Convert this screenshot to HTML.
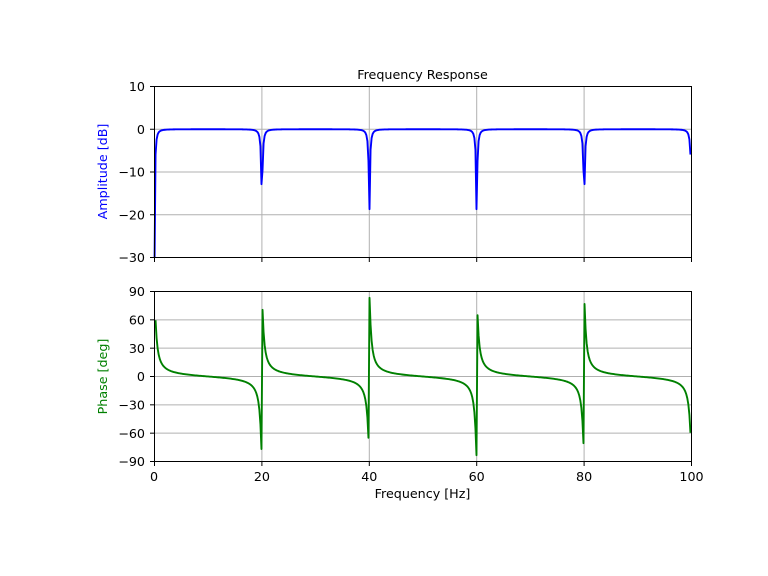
<!DOCTYPE html>
<html>
<head>
<meta charset="utf-8">
<style>
html,body{margin:0;padding:0;background:#fff;width:768px;height:576px;overflow:hidden;}
svg{display:block;}
text{font-family:"DejaVu Sans","Liberation Sans",sans-serif;font-size:12.7px;fill:#000;}
</style>
</head>
<body>
<svg id="fig" width="768" height="576" viewBox="0 0 768 576" xmlns="http://www.w3.org/2000/svg">
<defs>
<clipPath id="c1"><rect x="153.5" y="86.5" width="538.5" height="171"/></clipPath>
<clipPath id="c2"><rect x="153.5" y="291.5" width="538.5" height="170"/></clipPath>
</defs>
<rect x="0" y="0" width="768" height="576" fill="#fff"/>

<!-- ===== Top axes ===== -->
<g stroke="#b0b0b0" stroke-width="1" fill="none">
<line x1="261.9" y1="86.5" x2="261.9" y2="257.5"/>
<line x1="369.3" y1="86.5" x2="369.3" y2="257.5"/>
<line x1="476.7" y1="86.5" x2="476.7" y2="257.5"/>
<line x1="584.1" y1="86.5" x2="584.1" y2="257.5"/>
<line x1="154.5" y1="129.25" x2="691.5" y2="129.25"/>
<line x1="154.5" y1="172" x2="691.5" y2="172"/>
<line x1="154.5" y1="214.75" x2="691.5" y2="214.75"/>
</g>
<path id="amp" d="" fill="none" stroke="#0000ff" stroke-width="1.9" stroke-linejoin="round" clip-path="url(#c1)"/>
<rect x="154.5" y="86.5" width="537" height="171" fill="none" stroke="#000" stroke-width="1"/>
<g stroke="#000" stroke-width="1">
<line x1="150" y1="86.5" x2="154.5" y2="86.5"/>
<line x1="150" y1="129.25" x2="154.5" y2="129.25"/>
<line x1="150" y1="172" x2="154.5" y2="172"/>
<line x1="150" y1="214.75" x2="154.5" y2="214.75"/>
<line x1="150" y1="257.5" x2="154.5" y2="257.5"/>
<line x1="154.5" y1="257.5" x2="154.5" y2="262"/>
<line x1="261.9" y1="257.5" x2="261.9" y2="262"/>
<line x1="369.3" y1="257.5" x2="369.3" y2="262"/>
<line x1="476.7" y1="257.5" x2="476.7" y2="262"/>
<line x1="584.1" y1="257.5" x2="584.1" y2="262"/>
<line x1="691.5" y1="257.5" x2="691.5" y2="262"/>
</g>
<g text-anchor="end">
<text x="145" y="91.1">10</text>
<text x="145" y="133.85">0</text>
<text x="145" y="176.6">−10</text>
<text x="145" y="219.35">−20</text>
<text x="145" y="262.1">−30</text>
</g>
<text x="422.5" y="79" text-anchor="middle">Frequency Response</text>
<text x="106.8" y="171.5" text-anchor="middle" transform="rotate(-90 106.8 171.5)" style="fill:#0000ff">Amplitude [dB]</text>

<!-- ===== Bottom axes ===== -->
<g stroke="#b0b0b0" stroke-width="1" fill="none">
<line x1="261.9" y1="291.5" x2="261.9" y2="461.5"/>
<line x1="369.3" y1="291.5" x2="369.3" y2="461.5"/>
<line x1="476.7" y1="291.5" x2="476.7" y2="461.5"/>
<line x1="584.1" y1="291.5" x2="584.1" y2="461.5"/>
<line x1="154.5" y1="319.83" x2="691.5" y2="319.83"/>
<line x1="154.5" y1="348.17" x2="691.5" y2="348.17"/>
<line x1="154.5" y1="376.5" x2="691.5" y2="376.5"/>
<line x1="154.5" y1="404.83" x2="691.5" y2="404.83"/>
<line x1="154.5" y1="433.17" x2="691.5" y2="433.17"/>
</g>
<path id="phs" d="" fill="none" stroke="#008000" stroke-width="1.9" stroke-linejoin="round" clip-path="url(#c2)"/>
<rect x="154.5" y="291.5" width="537" height="170" fill="none" stroke="#000" stroke-width="1"/>
<g stroke="#000" stroke-width="1">
<line x1="150" y1="291.5" x2="154.5" y2="291.5"/>
<line x1="150" y1="319.83" x2="154.5" y2="319.83"/>
<line x1="150" y1="348.17" x2="154.5" y2="348.17"/>
<line x1="150" y1="376.5" x2="154.5" y2="376.5"/>
<line x1="150" y1="404.83" x2="154.5" y2="404.83"/>
<line x1="150" y1="433.17" x2="154.5" y2="433.17"/>
<line x1="150" y1="461.5" x2="154.5" y2="461.5"/>
<line x1="154.5" y1="461.5" x2="154.5" y2="466"/>
<line x1="261.9" y1="461.5" x2="261.9" y2="466"/>
<line x1="369.3" y1="461.5" x2="369.3" y2="466"/>
<line x1="476.7" y1="461.5" x2="476.7" y2="466"/>
<line x1="584.1" y1="461.5" x2="584.1" y2="466"/>
<line x1="691.5" y1="461.5" x2="691.5" y2="466"/>
</g>
<g text-anchor="end">
<text x="145" y="296.1">90</text>
<text x="145" y="324.43">60</text>
<text x="145" y="352.77">30</text>
<text x="145" y="381.1">0</text>
<text x="145" y="409.43">−30</text>
<text x="145" y="437.77">−60</text>
<text x="145" y="466.1">−90</text>
</g>
<g text-anchor="middle">
<text x="154" y="481">0</text>
<text x="261.9" y="481">20</text>
<text x="369.3" y="481">40</text>
<text x="476.7" y="481">60</text>
<text x="584.1" y="481">80</text>
<text x="691.5" y="481">100</text>
</g>
<text x="422.5" y="498" text-anchor="middle">Frequency [Hz]</text>
<text x="106.8" y="376.5" text-anchor="middle" transform="rotate(-90 106.8 376.5)" style="fill:#008000">Phase [deg]</text>
</svg>
<script>
(function(){
  var fs=200, N=10, Q=30;
  var w0=2*Math.PI*20/fs, wd=w0/Q;
  var beta=Math.tan(N*wd/4);
  var ax=(1-beta)/(1+beta), bx=1/(1+beta), cx=1/(1+beta);
  var p1='', p2='';
  for(var k=0;k<512;k++){
    var f=k*100/512;
    var th=N*2*Math.PI*f/fs;
    var c=Math.cos(th), s=Math.sin(th);
    var nr=bx-cx*c, ni=cx*s, dr=1-ax*c, di=ax*s;
    var dd=dr*dr+di*di;
    var hr=(nr*dr+ni*di)/dd, hi=(ni*dr-nr*di)/dd;
    var mag=Math.sqrt(hr*hr+hi*hi);
    var db=(k===0||mag<=0)?-32:20*Math.log10(mag);
    if(db<-32) db=-32;
    var x=154.5+f*5.37;
    var y1=86.5+(10-db)*4.275;
    p1+=(k?'L':'M')+x.toFixed(2)+' '+y1.toFixed(2);
    if(k>0){
      var ph=Math.atan2(hi,hr)*180/Math.PI;
      var y2=376.5-ph*(170/180);
      p2+=(k>1?'L':'M')+x.toFixed(2)+' '+y2.toFixed(2);
    }
  }
  document.getElementById('amp').setAttribute('d',p1);
  document.getElementById('phs').setAttribute('d',p2);
})();
</script>
</body>
</html>
